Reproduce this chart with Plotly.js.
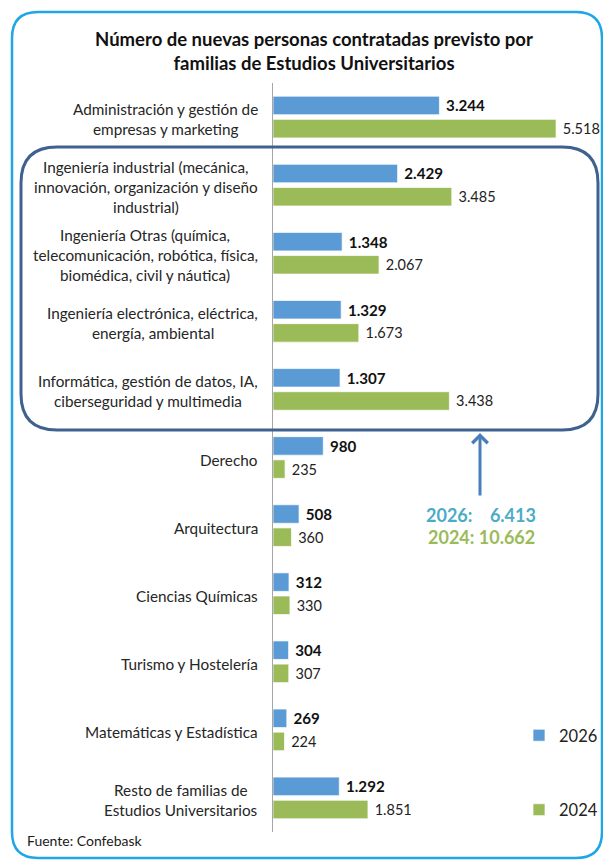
<!DOCTYPE html>
<html>
<head>
<meta charset="utf-8">
<script src="https://cdn.plot.ly/plotly-3.0.1.min.js"></script>
<style>
  html, body { margin: 0; padding: 0; background: #ffffff; }
  #chart { width: 603px; height: 860px; }
</style>
</head>
<body>
<div id="chart"></div>
<script>
// ---- Data ----
const categories = [
  "Administración y gestión de|empresas y marketing",
  "Ingeniería industrial (mecánica,|innovación, organización y diseño|industrial)",
  "Ingeniería Otras (química,|telecomunicación, robótica, física,|biomédica, civil y náutica)",
  "Ingeniería electrónica, eléctrica,|energía, ambiental",
  "Informática, gestión de datos, IA,|ciberseguridad y multimedia",
  "Derecho",
  "Arquitectura",
  "Ciencias Químicas",
  "Turismo y Hostelería",
  "Matemáticas y Estadística",
  "Resto de familias de|Estudios Universitarios"
];
const values2026 = [3244, 2429, 1348, 1329, 1307, 980, 508, 312, 304, 269, 1292];
const values2024 = [5518, 3485, 2067, 1673, 3438, 235, 360, 330, 307, 224, 1851];
const seriesNames = ["2026", "2024"];
const titleText = "Número de nuevas personas contratadas previsto por<br>familias de Estudios Universitarios";
const totalsText = ["2026:\u00a0\u00a0\u00a0 6.413", "2024: 10.662"];
const sourceText = "Fuente: Confebask";

// ---- Layout helpers (pixel -> paper) ----
const W = 603, H = 860;
const M = { l: 273, r: 0, t: 83, b: 28, autoexpand: false };
const PW = W - M.l - M.r, PH = H - M.t - M.b;
const X = px => (px - M.l) / PW;
const Y = py => (H - M.b - py) / PH;
function roundRect(x0, y0, x1, y1, r) {
  const p = (x, y) => X(x) + "," + Y(y);
  return "M" + p(x0 + r, y0) + " L" + p(x1 - r, y0) + " Q" + p(x1, y0) + " " + p(x1, y0 + r) +
    " L" + p(x1, y1 - r) + " Q" + p(x1, y1) + " " + p(x1 - r, y1) +
    " L" + p(x0 + r, y1) + " Q" + p(x0, y1) + " " + p(x0, y1 - r) +
    " L" + p(x0, y0 + r) + " Q" + p(x0, y0) + " " + p(x0 + r, y0) + " Z";
}

const FONT = "Lato, 'Open Sans', sans-serif";
const BLUE = "#5b9bd5", GREEN = "#9bbb59";

const traces = [
  {
    type: "bar", orientation: "h", name: seriesNames[0], legendgroup: "a",
    y: categories, x: values2026,
    marker: { color: BLUE, line: { color: "rgba(255,255,255,0.7)", width: 1 } },
    texttemplate: "\u00a0%{x:,}", textposition: "outside", cliponaxis: false,
    textfont: { family: FONT, size: 18, color: "#111111", weight: "bold" },
    hoverinfo: "x"
  },
  {
    type: "bar", orientation: "h", name: seriesNames[1], legendgroup: "b",
    y: categories, x: values2024,
    marker: { color: GREEN, line: { color: "rgba(255,255,255,0.7)", width: 1 } },
    texttemplate: "\u00a0%{x:,}", textposition: "outside", cliponaxis: false,
    textfont: { family: FONT, size: 14.5, color: "#222222" },
    hoverinfo: "x"
  }
];

// Category labels: one annotation per line, lines centered, block right-aligned near axis
const annotations = [];
const LINE = 20;
const LABEL_SIZE = 15.3;
const ctx = document.createElement("canvas").getContext("2d");
ctx.font = LABEL_SIZE + "px Lato";
categories.forEach(c => {
  const lines = c.split("|");
  const n = lines.length;
  const bw = Math.max(...lines.map(s => ctx.measureText(s).width));
  lines.forEach((ln, i) => {
    annotations.push({
      xref: "x", yref: "y", x: 0, y: c,
      xanchor: "center", yanchor: "middle",
      xshift: -15 - bw / 2, yshift: ((n - 1) / 2 - i) * LINE - 2,
      text: ln, showarrow: false,
      font: { family: FONT, size: LABEL_SIZE, color: "#262626" }
    });
  });
});

// Arrow
annotations.push({
  xref: "paper", yref: "paper", x: X(480), y: Y(433), ax: 0, ay: 64,
  text: "", showarrow: true, arrowhead: 4, arrowsize: 1, arrowwidth: 3, arrowcolor: "#4a7ebb"
});
// Totals
annotations.push({
  xref: "paper", yref: "paper", x: X(481), y: Y(515), xanchor: "center", yanchor: "middle",
  text: "<b>" + totalsText[0] + "</b>", showarrow: false,
  font: { family: FONT, size: 18, color: "#4bacc6" }
});
annotations.push({
  xref: "paper", yref: "paper", x: X(481), y: Y(537), xanchor: "center", yanchor: "middle",
  text: "<b>" + totalsText[1] + "</b>", showarrow: false,
  font: { family: FONT, size: 18, color: "#9bbb59" }
});
// Source
annotations.push({
  xref: "paper", yref: "paper", x: X(25), y: Y(841), xanchor: "left", yanchor: "middle",
  text: sourceText, showarrow: false,
  font: { family: FONT, size: 14, color: "#1a1a1a" }
});

const layout = {
  width: W, height: H,
  margin: M,
  paper_bgcolor: "#ffffff", plot_bgcolor: "rgba(0,0,0,0)",
  font: { family: FONT, color: "#222222" },
  title: {
    text: "<b>" + titleText + "</b>",
    font: { family: FONT, size: 18.5, color: "#111111" },
    xref: "container", x: 314 / W, xanchor: "center",
    yref: "container", y: 1 - 46 / H, yanchor: "top"
  },
  barmode: "group", bargap: 0.32, bargroupgap: 0.2,
  separators: ",.",
  xaxis: { range: [0, PW / 0.0513], visible: false, fixedrange: true },
  yaxis: {
    type: "category", autorange: "reversed", showticklabels: false,
    showgrid: false, zeroline: false, ticks: "",
    showline: true, linecolor: "#a6a6a6", linewidth: 1
  },
  showlegend: true,
  legend: {
    x: X(519), y: Y(718), xanchor: "left", yanchor: "top",
    font: { family: FONT, size: 16.5, color: "#222222" },
    tracegroupgap: 50, bgcolor: "rgba(0,0,0,0)", traceorder: "grouped"
  },
  shapes: [
    { type: "path", xref: "paper", yref: "paper", layer: "above",
      path: roundRect(12, 12, 602, 858, 26),
      line: { color: "#1ea7e4", width: 2.5 }, fillcolor: "rgba(0,0,0,0)" },
    { type: "path", xref: "paper", yref: "paper", layer: "above",
      path: roundRect(21, 147, 598, 430, 36),
      line: { color: "#3e6190", width: 3 }, fillcolor: "rgba(0,0,0,0)" }
  ],
  annotations: annotations
};

Plotly.newPlot("chart", traces, layout, { displayModeBar: false, staticPlot: true });
</script>
</body>
</html>
